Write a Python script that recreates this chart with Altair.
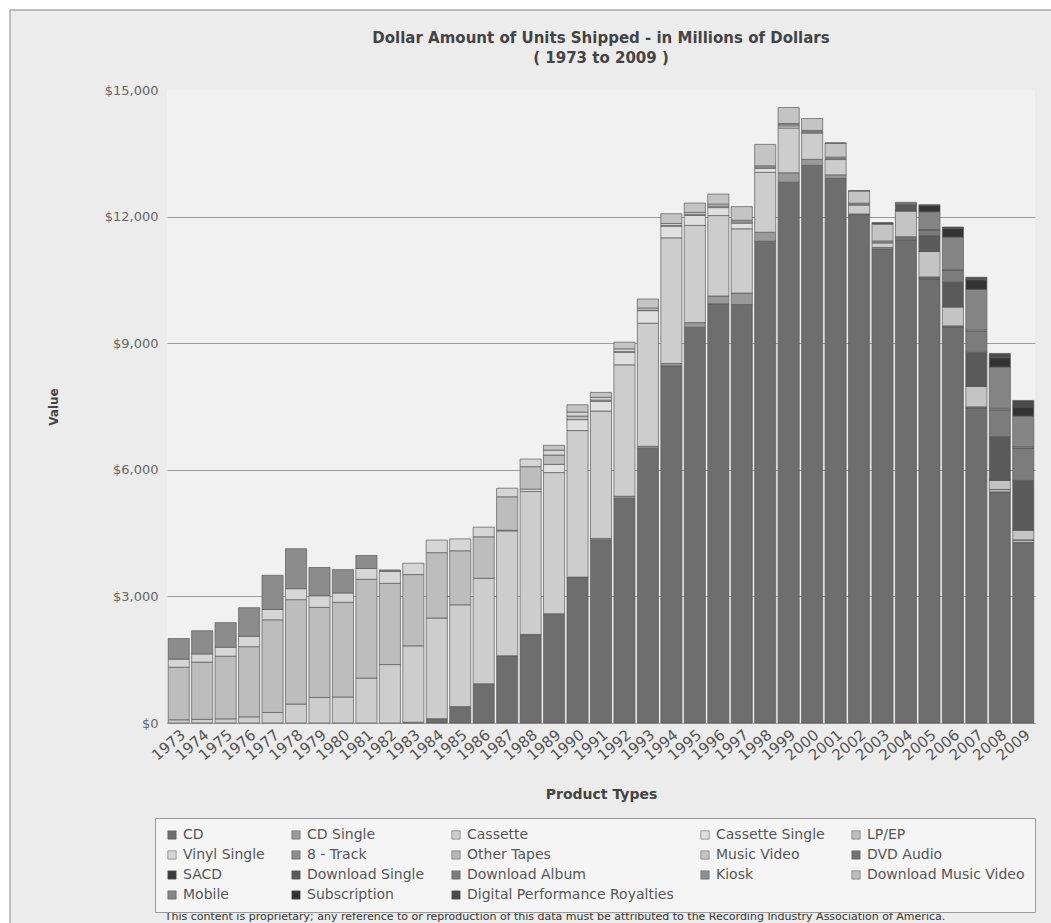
import altair as alt
import pandas as pd

years = [str(y) for y in range(1973, 2010)]

types = ["CD", "CD Single", "Cassette", "Cassette Single", "LP/EP", "Vinyl Single",
         "8 - Track", "Other Tapes", "Music Video", "DVD Audio", "SACD",
         "Download Single", "Download Album", "Kiosk", "Download Music Video",
         "Mobile", "Subscription", "Digital Performance Royalties"]

colors = ["#6e6e6e", "#9a9a9a", "#cdcdcd", "#e0e0e0", "#bdbdbd", "#d6d6d6",
          "#8c8c8c", "#b8b8b8", "#c4c4c4", "#727272", "#3c3c3c",
          "#5a5a5a", "#7c7c7c", "#8e8e8e", "#bcbcbc",
          "#858585", "#333333", "#4a4a4a"]

cd = [0] * 10 + [17.2, 103.3, 389.5, 930.1, 1593.6, 2089.9, 2587.7, 3451.6, 4337.7, 5326.5,
                 6511.4, 8464.5, 9377.4, 9934.7, 9915.1, 11416.0, 12816.3, 13214.5, 12909.4,
                 12044.1, 11232.9, 11446.5, 10520.2, 9372.6, 7452.3, 5471.3, 4274.1]
cd_single = [0] * 15 + [9.8, 0, 6.0, 35.1, 45.1, 45.8, 56.1, 110.9, 184.1, 272.7, 213.2, 222.4,
                        142.7, 79.4, 19.6, 36.0, 15.0, 10.9, 7.7, 12.2, 3.5, 2.5]
cassette = [76.0, 87.2, 98.8, 145.7, 249.6, 449.8, 604.6, 616.0, 1062.8, 1384.5, 1810.9, 2383.9,
            2411.5, 2499.5, 2959.7, 3385.1, 3345.8, 3472.4, 3019.6, 3116.3, 2915.8, 2976.4,
            2303.6, 1905.3, 1522.7, 1419.9, 1061.6, 626.0, 363.4, 209.8, 108.1, 23.7, 13.1,
            3.7, 0, 0, 0]
cassette_single = [0] * 14 + [14.3, 57.3, 194.6, 257.9, 230.4, 298.8, 298.5, 274.9, 236.3,
                              189.3, 133.5, 94.4, 48.0, 4.6] + [0] * 9
lp_ep = [1246.9, 1356.0, 1485.0, 1663.0, 2195.1, 2473.3, 2136.0, 2244.0, 2341.7, 1925.1, 1689.0,
         1548.8, 1280.5, 983.0, 793.1, 532.3, 220.3, 86.5, 29.4, 13.5, 10.6, 17.8, 25.1, 36.8,
         33.3, 34.0, 31.8, 27.7, 27.4, 20.5, 21.7, 19.3, 14.2, 15.7, 22.9, 56.7, 60.2]
vinyl_single = [190.0, 194.0, 211.5, 245.1, 245.1, 260.3, 275.4, 221.0, 256.4, 283.0, 269.3,
                298.7, 281.0, 228.1, 203.3, 180.4, 116.4, 94.4, 63.9, 66.4, 51.2, 47.2, 46.7,
                47.5, 35.6, 25.7, 27.9, 26.3, 31.4, 24.9, 25.3, 19.9, 13.2, 11.2, 4.0, 2.9, 2.5]
eight_track = [489.0, 549.0, 583.0, 678.2, 811.0, 948.0, 669.4, 553.0, 309.0, 35.0] + [0] * 27
other_tapes = [0] * 37
music_video = [0] * 16 + [115.4, 172.3, 118.1, 157.4, 213.3, 231.1, 220.3, 236.1, 323.9, 508.0,
                          376.7, 281.9, 329.2, 288.4, 399.9, 607.2, 602.2, 451.1, 484.9, 218.9,
                          235.4]
dvd_audio = [0] * 28 + [6.0, 8.5, 8.0, 6.5, 2.8, 1.6, 2.8, 1.1, 0.7]
sacd = [0] * 30 + [26.3, 16.6, 10.9, 4.1, 3.6, 0.5, 0.3]
download_single = [0] * 31 + [138.0, 363.3, 580.6, 801.6, 1032.2, 1172.0]
download_album = [0] * 31 + [45.5, 135.7, 275.9, 497.6, 635.3, 766.8]
kiosk = [0] * 32 + [1.0, 1.9, 2.6, 2.6, 5.2]
download_music_video = [0] * 32 + [3.7, 14.2, 29.1, 33.7, 26.7]
mobile = [0] * 32 + [421.6, 773.8, 960.0, 977.1, 728.5]
subscription = [0] * 32 + [149.2, 206.2, 230.0, 221.4, 213.1]
dpr = [0] * 32 + [20.4, 32.8, 60.0, 100.0, 155.5]

series = [cd, cd_single, cassette, cassette_single, lp_ep, vinyl_single, eight_track,
          other_tapes, music_video, dvd_audio, sacd, download_single, download_album, kiosk,
          download_music_video, mobile, subscription, dpr]

rows = []
for i, (name, vals) in enumerate(zip(types, series)):
    for y, v in zip(years, vals):
        if v > 0:
            rows.append({"Year": y, "Type": name, "Value": v, "idx": i})
df = pd.DataFrame(rows)

FONT = "DejaVu Sans"

bars = alt.Chart(df).mark_bar(stroke="#5a5a5a", strokeWidth=0.7).encode(
    x=alt.X("Year:N", sort=years,
            scale=alt.Scale(paddingInner=0.1, paddingOuter=0.05),
            axis=alt.Axis(title="Product Types", labelAngle=-40, labelFontSize=15,
                          labelColor="#555", labelFont=FONT, ticks=False,
                          domainColor="#999", titleFont=FONT, titleFontSize=14,
                          titleFontWeight="bold", titleColor="#444", titlePadding=24,
                          labelPadding=4)),
    y=alt.Y("sum(Value):Q",
            scale=alt.Scale(domain=[0, 15000], nice=False),
            axis=alt.Axis(title="Value", values=[0, 3000, 6000, 9000, 12000, 15000],
                          format="$,.0f", labelFontSize=13, labelColor="#666",
                          labelFont=FONT, ticks=False, domain=False, labelPadding=9,
                          gridColor="#9a9a9a",
                          gridOpacity={"condition": {"test": "datum.value == 15000", "value": 0},
                                       "value": 1},
                          titleFont=FONT, titleFontSize=12, titleFontWeight="bold",
                          titleColor="#444", titlePadding=44)),
    color=alt.Color("Type:N",
                    scale=alt.Scale(domain=types, range=colors),
                    legend=alt.Legend(title=None, orient="none", legendX=-12, legendY=728,
                                      direction="horizontal", columns=5,
                                      symbolType="square", symbolSize=70,
                                      symbolStrokeColor="#555", symbolStrokeWidth=0.5,
                                      labelFontSize=14, labelFont=FONT, labelColor="#555",
                                      labelLimit=400, columnPadding=24, rowPadding=6,
                                      padding=10, strokeColor="#999", fillColor="#f5f5f5")),
    order=alt.Order("idx:Q", sort="ascending"),
)

one = pd.DataFrame({"a": [0]})

margin = alt.Chart(one).mark_rect(filled=False, stroke="white", strokeWidth=20).encode(
    x=alt.value(-167), x2=alt.value(904), y=alt.value(-90), y2=alt.value(853))
frame = alt.Chart(one).mark_rect(filled=False, stroke="#aaaaaa", strokeWidth=1.5).encode(
    x=alt.value(-157), x2=alt.value(904), y=alt.value(-80), y2=alt.value(853))

footer = alt.Chart(one).mark_text(
    text="This content is proprietary; any reference to or reproduction of this data must be "
         "attributed to the Recording Industry Association of America.",
    fontSize=11, font=FONT, color="#333", baseline="top", align="center"
).encode(x=alt.value(388), y=alt.value(821))

chart = alt.layer(bars, footer, margin, frame).properties(
    width=868, height=633,
    background="#ececec",
    autosize=alt.AutoSizeParams(type="none"),
    padding={"left": 167, "top": 90, "right": 16, "bottom": 200},
    title=alt.TitleParams(
        text=["Dollar Amount of Units Shipped - in Millions of Dollars", "( 1973 to 2009 )"],
        anchor="middle", frame="group", fontSize=15, font=FONT, fontWeight="bold",
        color="#444", lineHeight=20, offset=-76),
).configure_view(fill="#f1f1f1", stroke=None)

chart.save("out.html", embed_options={"renderer": "svg", "actions": False})
